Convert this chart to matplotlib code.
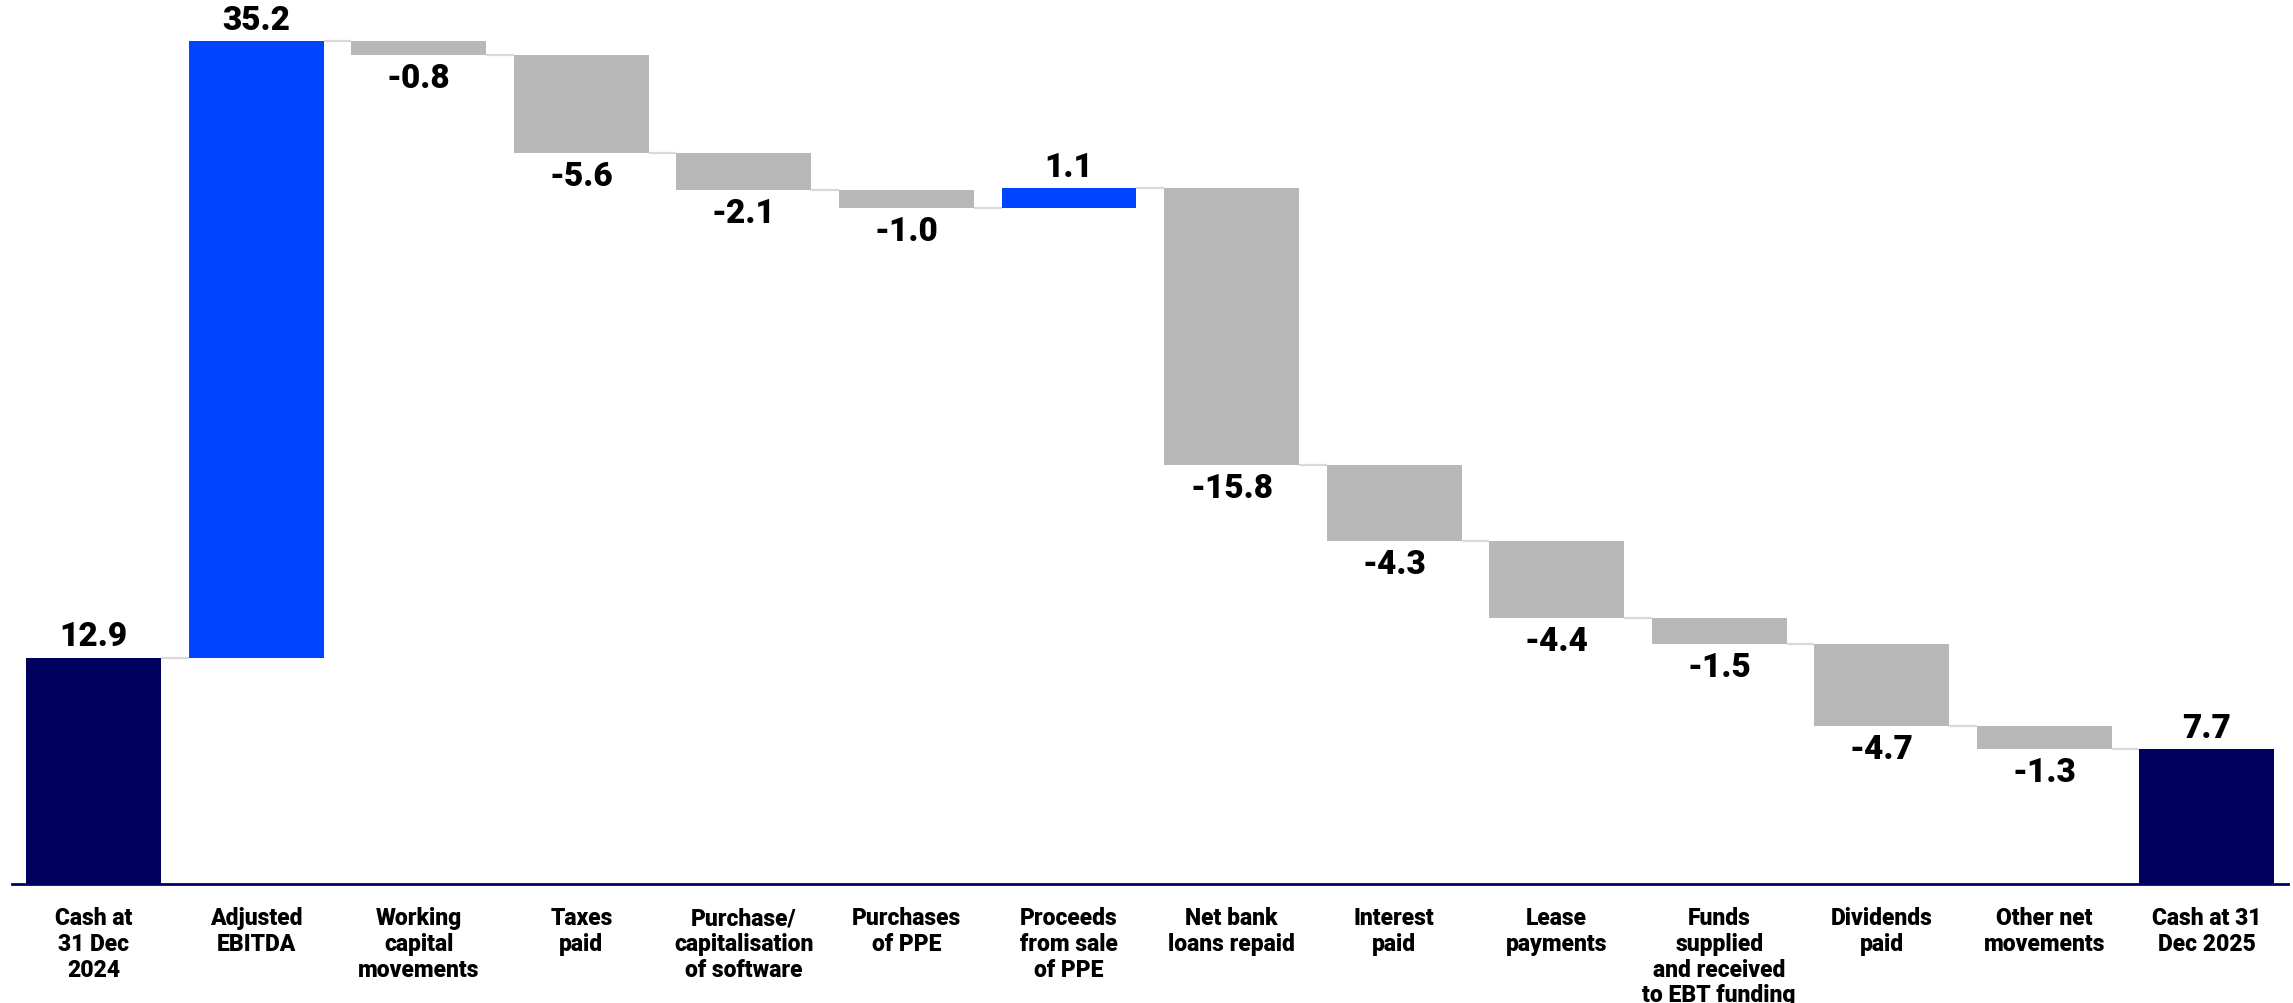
import numpy as np
import matplotlib
matplotlib.use("Agg")
import matplotlib.pyplot as plt

plt.rcParams['font.family'] = ['Roboto', 'DejaVu Sans']

labels = ['Cash at\n31 Dec\n2024', 'Adjusted\nEBITDA', 'Working\ncapital\nmovements',
          'Taxes\npaid', 'Purchase/\ncapitalisation\nof software', 'Purchases\nof PPE',
          'Proceeds\nfrom sale\nof PPE', 'Net bank\nloans repaid', 'Interest\npaid',
          'Lease\npayments', 'Funds\nsupplied\nand received\nto EBT funding',
          'Dividends\npaid', 'Other net\nmovements', 'Cash at 31\nDec 2025']
values = [12.9, 35.2, -0.8, -5.6, -2.1, -1.0, 1.1, -15.8, -4.3, -4.4, -1.5, -4.7, -1.3, 7.7]

navy = '#00005E'
blue = '#0044FF'
grey = '#B8B8B8'
conn = '#D9D9D9'

n = len(values)
x = np.arange(n)
bottoms = []
heights = []
colors = []
levels = []
run = 0.0
for i, v in enumerate(values):
    if i == 0 or i == n - 1:
        bottoms.append(0)
        heights.append(v)
        colors.append(navy)
        run = v
    else:
        if v >= 0:
            bottoms.append(run)
            colors.append(blue)
        else:
            bottoms.append(run + v)
            colors.append(grey)
        heights.append(abs(v))
        run = run + v
    levels.append(run)
tops = [b + h for b, h in zip(bottoms, heights)]

fig = plt.figure(figsize=(22.93, 10.04), dpi=100)
ax = fig.add_axes([0.0054, 0.1185, 0.9925, 0.8725])
w = 0.83
ax.bar(x, heights, bottom=bottoms, width=w, color=colors, zorder=2)

# connectors between bars
for i in range(n - 1):
    ax.plot([x[i] + w / 2, x[i + 1] - w / 2], [levels[i], levels[i]],
            color=conn, lw=1.6, zorder=1, solid_capstyle='butt')

# value labels
for i, v in enumerate(values):
    if v >= 0:
        ax.annotate(f'{v:.1f}', (x[i], tops[i]), xytext=(0, 4), textcoords='offset points',
                    ha='center', va='bottom', fontsize=24, fontweight='black')
    else:
        ax.annotate(f'{v:.1f}', (x[i], bottoms[i]), xytext=(0, -5), textcoords='offset points',
                    ha='center', va='top', fontsize=24, fontweight='black')

ax.set_xlim(-0.5, n - 0.5)
ax.set_ylim(0, 50)
for s in ['top', 'right', 'left']:
    ax.spines[s].set_visible(False)
ax.spines['bottom'].set_color(navy)
ax.spines['bottom'].set_linewidth(2)
ax.set_yticks([])
ax.set_xticks(x)
ax.set_xticklabels(labels, fontsize=16.5, fontweight='black', linespacing=1.15, va='top')
ax.tick_params(axis='x', length=0, pad=16)

fig.savefig('out.png', dpi=100)
